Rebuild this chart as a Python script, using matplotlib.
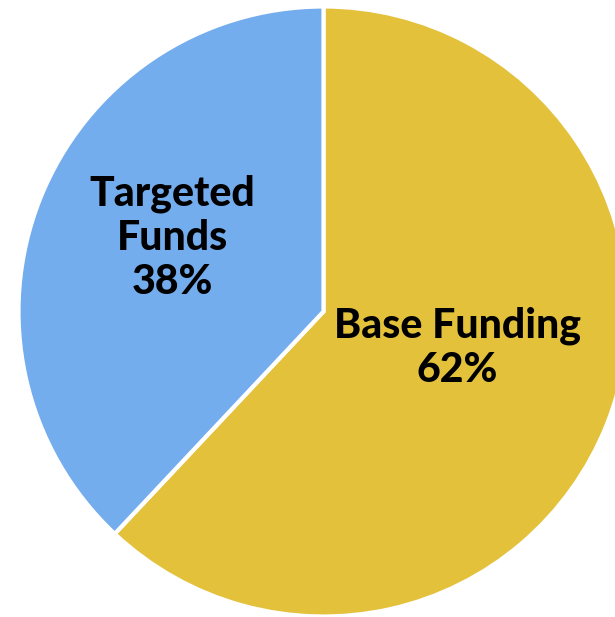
import matplotlib.pyplot as plt

# --- Data ---
labels = ['Base Funding', 'Targeted Funds']
shares = [62, 38]
colors = ['#E3C13A', '#74ADEE']

W, H = 615, 617
fig = plt.figure(figsize=(W / 100, H / 100), dpi=100)
ax = fig.add_axes([0, 0, 1, 1])

cx, cy, r = 323.5, H - 311.5, 305
wedges, _ = ax.pie(shares, colors=colors, startangle=90, counterclock=False,
                   center=(cx, cy), radius=r,
                   wedgeprops=dict(edgecolor='white', linewidth=3))

ax.set_xlim(0, W)
ax.set_ylim(0, H)
ax.set_aspect('equal')
ax.axis('off')

font = dict(family=['Lato', 'DejaVu Sans'], fontweight='black', fontsize=29.5,
            color='black', ha='center', va='center', linespacing=1.2)
ax.text(457, H - 348, f'{labels[0]}\n{shares[0]}%', **font)
ax.text(172, H - 238, 'Targeted\nFunds\n' + f'{shares[1]}%', **font)

fig.savefig('out.png', dpi=100)
